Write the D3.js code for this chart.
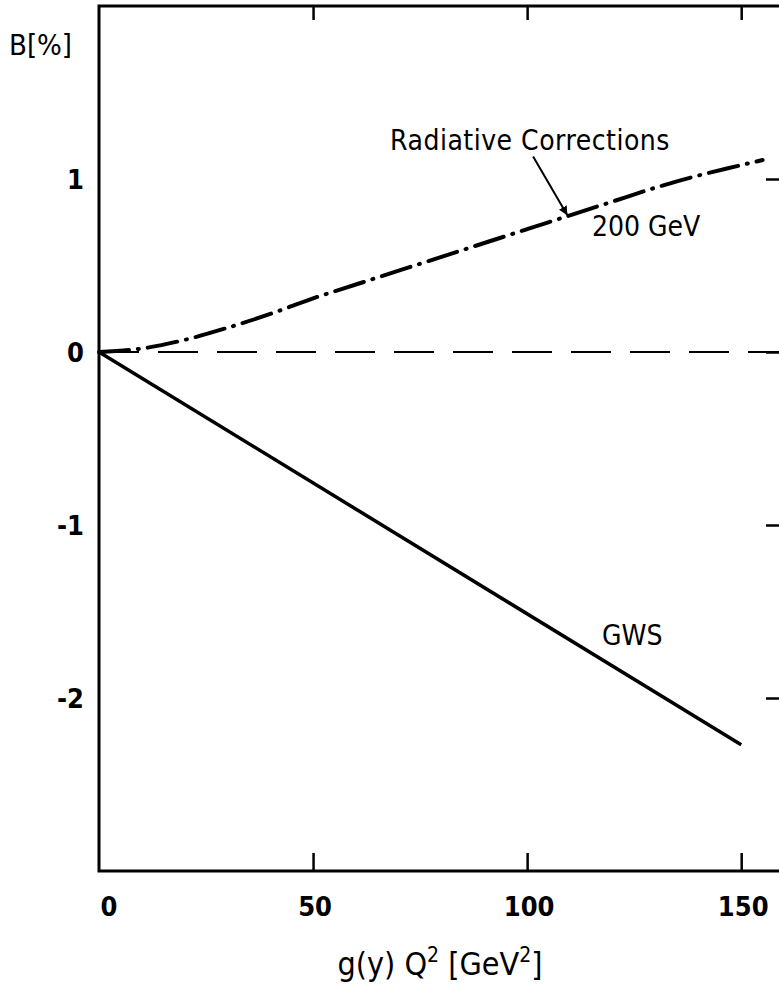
<!DOCTYPE html>
<html>
<head>
<meta charset="utf-8">
<script src="https://cdn.jsdelivr.net/npm/d3@7"></script>
<style>
  body { margin: 0; background: #fff; }
  text { font-family: "DejaVu Sans Condensed", "DejaVu Sans", sans-serif; fill: #000; }
</style>
</head>
<body>
<svg id="chart" width="779" height="989"></svg>
<script>
// values
var xTicks = [0, 50, 100, 150];
var yTicks = [1, 0, -1, -2];
var radX = [0, 10, 20, 30, 40, 50, 60, 70, 80, 90, 100, 110, 120, 130, 140, 150, 155];
var radY = [0, 0.02, 0.07, 0.14, 0.22, 0.31, 0.39, 0.47, 0.55, 0.63, 0.71, 0.79, 0.87, 0.95, 1.02, 1.08, 1.11];
var gwsX = [0, 150];
var gwsY = [0, -2.27];
var zeroX = [0, 160];
var zeroY = [0, 0];

var svg = d3.select("#chart");
var plotL = 99, plotT = 6, plotR = 784, plotB = 871;

var x = d3.scaleLinear().domain([0, 160]).range([plotL, plotR]);
var y = d3.scaleLinear().domain([-3, 2]).range([plotB, plotT]);

// frame
svg.append("rect")
    .attr("x", plotL).attr("y", plotT)
    .attr("width", plotR - plotL).attr("height", plotB - plotT)
    .attr("fill", "none").attr("stroke", "#000").attr("stroke-width", 3);

// inward ticks: bottom, top, right
var bottomAxis = d3.axisTop(x).tickValues(xTicks.slice(1)).tickSize(18).tickFormat("");
svg.append("g").attr("transform", "translate(0," + plotB + ")").call(bottomAxis);
var topAxis = d3.axisBottom(x).tickValues(xTicks.slice(1)).tickSize(14).tickFormat("");
svg.append("g").attr("transform", "translate(0," + plotT + ")").call(topAxis);
var rightAxis = d3.axisLeft(y).tickValues(yTicks).tickSize(18).tickFormat("");
svg.append("g").attr("transform", "translate(" + plotR + ",0)").call(rightAxis);
svg.selectAll(".domain").remove();
svg.selectAll(".tick line").attr("stroke", "#000").attr("stroke-width", 2.5);

// tick labels
svg.selectAll(".xlab").data(xTicks).enter().append("text")
    .attr("x", function(d) { return x(d) + (d == 0 ? 10 : 2); })
    .attr("y", 916)
    .attr("text-anchor", "middle")
    .style("font-size", "27px").style("font-weight", "bold")
    .text(function(d) { return d; });

svg.selectAll(".ylab").data(yTicks).enter().append("text")
    .attr("x", 84)
    .attr("y", function(d) { return y(d) + 10; })
    .attr("text-anchor", "end")
    .style("font-size", "27px").style("font-weight", "bold")
    .text(function(d) { return d < 0 ? "-" + Math.abs(d) : d; });

// axis titles
svg.append("text").attr("x", 9).attr("y", 55)
    .style("font-size", "29px")
    .text("B[%]");

var xt = svg.append("text").attr("x", 440).attr("y", 975)
    .attr("text-anchor", "middle").style("font-size", "32px");
xt.append("tspan").text("g(y)  Q");
xt.append("tspan").attr("dy", -13).style("font-size", "21px").text("2");
xt.append("tspan").attr("dy", 13).text(" [GeV");
xt.append("tspan").attr("dy", -13).style("font-size", "21px").text("2");
xt.append("tspan").attr("dy", 13).text("]");

var line = d3.line()
    .x(function(d) { return x(d[0]); })
    .y(function(d) { return y(d[1]); })
    .curve(d3.curveMonotoneX);

// zero reference line
svg.append("path")
    .attr("d", line(d3.zip(zeroX, zeroY)))
    .attr("fill", "none").attr("stroke", "#000").attr("stroke-width", 2)
    .attr("stroke-dasharray", "40,19");

// GWS
svg.append("path")
    .attr("d", line(d3.zip(gwsX, gwsY)))
    .attr("fill", "none").attr("stroke", "#000").attr("stroke-width", 3.5);

// radiative corrections, dash-dot
svg.append("path")
    .attr("d", line(d3.zip(radX, radY)))
    .attr("fill", "none").attr("stroke", "#000").attr("stroke-width", 4)
    .attr("stroke-linecap", "round")
    .attr("stroke-dasharray", "30,9,1,9");

// labels
svg.append("text").attr("x", 530).attr("y", 150)
    .attr("text-anchor", "middle").style("font-size", "28px")
    .style("letter-spacing", "0.5px")
    .text("Radiative Corrections");
svg.append("text").attr("x", 592).attr("y", 236)
    .style("font-size", "28px").text("200  GeV");
svg.append("text").attr("x", 602).attr("y", 645)
    .style("font-size", "28px").text("GWS");

// arrow
svg.append("defs").append("marker")
    .attr("id", "head").attr("viewBox", "0 0 10 10")
    .attr("refX", 10).attr("refY", 5)
    .attr("markerWidth", 9).attr("markerHeight", 9)
    .attr("markerUnits", "userSpaceOnUse")
    .attr("orient", "auto")
    .append("path").attr("d", "M0,0 L10,5 L0,10 z").attr("fill", "#000");
svg.append("line")
    .attr("x1", x(101.4)).attr("y1", y(1.13))
    .attr("x2", x(109.4)).attr("y2", y(0.79))
    .attr("stroke", "#000").attr("stroke-width", 2)
    .attr("marker-end", "url(#head)");
</script>
</body>
</html>
